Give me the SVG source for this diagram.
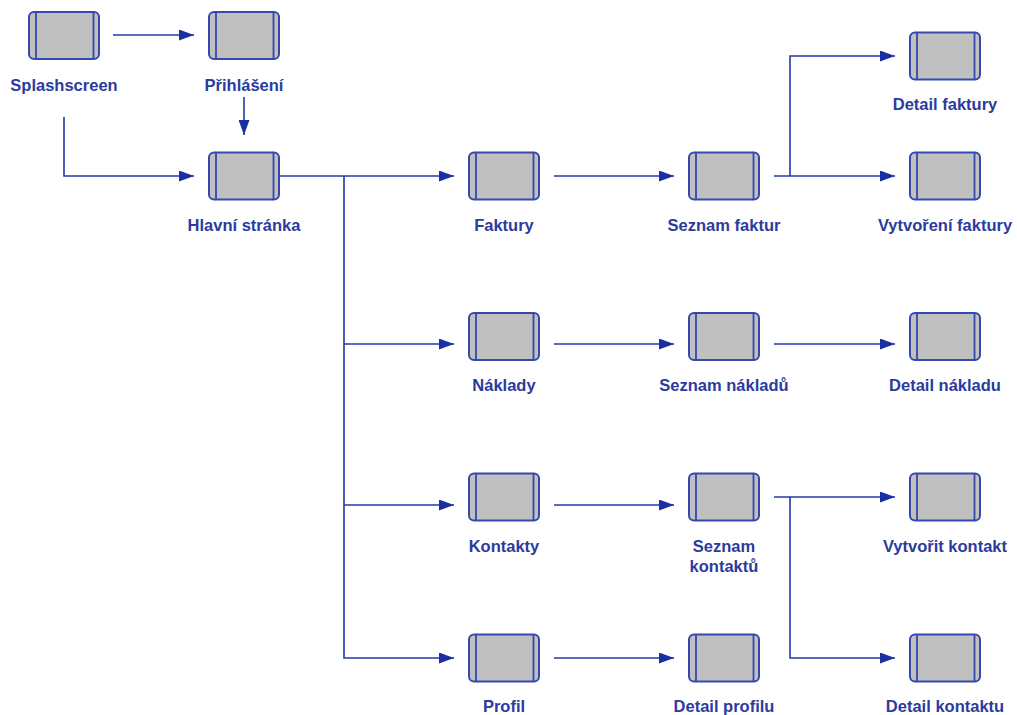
<svg xmlns="http://www.w3.org/2000/svg" width="1017" height="715" viewBox="0 0 1017 715">
<defs>
<style>
.box{fill:#c0c0c0;stroke:#3448b0;stroke-width:2}
.inner{stroke:#3448b0;stroke-width:1.8}
.lbl{font-family:"Liberation Sans",Arial,sans-serif;font-weight:bold;font-size:16.5px;fill:#2b3b9e;text-anchor:middle}
.con{fill:none;stroke:#2438a8;stroke-width:1.6}
</style>
<marker id="ah" markerWidth="15" markerHeight="11" refX="15" refY="5.5" orient="auto" markerUnits="userSpaceOnUse">
<path d="M0,0 L15,5.5 L0,11 Z" fill="#1a30a2"/>
</marker>
<g id="scr">
<rect class="box" x="0" y="0" width="70" height="47" rx="5"/>
<line class="inner" x1="7" y1="0" x2="7" y2="47"/>
<line class="inner" x1="64.5" y1="0" x2="64.5" y2="47"/>
</g>
</defs>
<rect width="1017" height="715" fill="#ffffff"/>
<g id="connectors">
<path class="con" d="M113,35 H194" marker-end="url(#ah)"/>
<path class="con" d="M244,97 V135" marker-end="url(#ah)"/>
<path class="con" d="M64,117 V176 H194" marker-end="url(#ah)"/>
<path class="con" d="M279,176 H454" marker-end="url(#ah)"/>
<path class="con" d="M344,176 V658 H454" marker-end="url(#ah)"/>
<path class="con" d="M344,344 H454" marker-end="url(#ah)"/>
<path class="con" d="M344,505 H454" marker-end="url(#ah)"/>
<path class="con" d="M554,176 H674" marker-end="url(#ah)"/>
<path class="con" d="M554,344 H674" marker-end="url(#ah)"/>
<path class="con" d="M554,505 H674" marker-end="url(#ah)"/>
<path class="con" d="M554,658 H674" marker-end="url(#ah)"/>
<path class="con" d="M774,176 H895" marker-end="url(#ah)"/>
<path class="con" d="M790,176 V56 H895" marker-end="url(#ah)"/>
<path class="con" d="M774,344 H895" marker-end="url(#ah)"/>
<path class="con" d="M774,497 H895" marker-end="url(#ah)"/>
<path class="con" d="M790,497 V658 H895" marker-end="url(#ah)"/>
</g>
<g id="splashscreen"><use href="#scr" x="29" y="12"/><text class="lbl" x="64" y="91">Splashscreen</text></g>
<g id="prihlaseni"><use href="#scr" x="209" y="12"/><text class="lbl" x="244" y="91">Přihlášení</text></g>
<g id="hlavni"><use href="#scr" x="209" y="152.5"/><text class="lbl" x="244" y="231">Hlavní stránka</text></g>
<g id="faktury"><use href="#scr" x="469" y="152.5"/><text class="lbl" x="504" y="231">Faktury</text></g>
<g id="seznam-faktur"><use href="#scr" x="689" y="152.5"/><text class="lbl" x="724" y="231">Seznam faktur</text></g>
<g id="detail-faktury"><use href="#scr" x="910" y="32.5"/><text class="lbl" x="945" y="110">Detail faktury</text></g>
<g id="vytvoreni-faktury"><use href="#scr" x="910" y="152.5"/><text class="lbl" x="945" y="231">Vytvoření faktury</text></g>
<g id="naklady"><use href="#scr" x="469" y="313"/><text class="lbl" x="504" y="391">Náklady</text></g>
<g id="seznam-nakladu"><use href="#scr" x="689" y="313"/><text class="lbl" x="724" y="391">Seznam nákladů</text></g>
<g id="detail-nakladu"><use href="#scr" x="910" y="313"/><text class="lbl" x="945" y="391">Detail nákladu</text></g>
<g id="kontakty"><use href="#scr" x="469" y="473.5"/><text class="lbl" x="504" y="552">Kontakty</text></g>
<g id="seznam-kontaktu"><use href="#scr" x="689" y="473.5"/><text class="lbl" x="724" y="552">Seznam</text><text class="lbl" x="724" y="572">kontaktů</text></g>
<g id="vytvorit-kontakt"><use href="#scr" x="910" y="473.5"/><text class="lbl" x="945" y="552">Vytvořit kontakt</text></g>
<g id="profil"><use href="#scr" x="469" y="634.5"/><text class="lbl" x="504" y="712">Profil</text></g>
<g id="detail-profilu"><use href="#scr" x="689" y="634.5"/><text class="lbl" x="724" y="712">Detail profilu</text></g>
<g id="detail-kontaktu"><use href="#scr" x="910" y="634.5"/><text class="lbl" x="945" y="712">Detail kontaktu</text></g>
</svg>
